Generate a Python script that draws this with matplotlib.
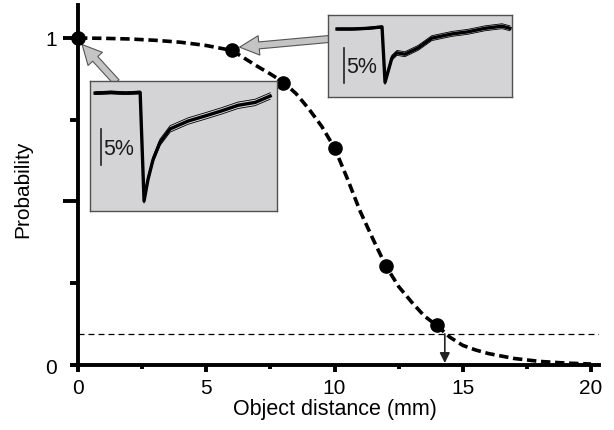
import numpy as np
import matplotlib
matplotlib.use('Agg')
import matplotlib.pyplot as plt
from matplotlib.ticker import FixedLocator

plt.rcParams['font.family'] = ['Liberation Sans', 'DejaVu Sans']
plt.rcParams['text.color'] = '#1a1a1a'

### Data ###
# measured points
dist_mm = [0, 6, 8, 10, 12, 14]
prob = [1.0, 0.963, 0.862, 0.664, 0.303, 0.122]

# fitted curve
curve_x = [0, 1, 2, 3, 4, 5, 6, 7, 7.5, 8, 8.5, 9, 9.5, 10, 10.5, 11, 11.5, 12,
           12.5, 13, 13.5, 14, 14.5, 15, 15.5, 16, 17, 18, 19, 20]
curve_p = [1.0, 0.999, 0.997, 0.993, 0.987, 0.977, 0.962, 0.913, 0.89, 0.865,
           0.83, 0.783, 0.73, 0.664, 0.57, 0.47, 0.385, 0.303, 0.24, 0.193,
           0.15, 0.12, 0.085, 0.06, 0.046, 0.035, 0.02, 0.011, 0.006, 0.003]

# threshold
thr_p = 0.095
thr_x = 14.3

# inset traces (% change vs time, s)
t1 = [-15.3, -10, -5, -0.3, 1.0, 2.3, 4.0, 6.3, 9.7, 15.7, 21.3, 26.7, 32.3, 38.0, 43.0]
resp1 = [0.0, 0.1, 0.0, 0.1, -15.1, -12.1, -9.3, -6.9, -5.0, -3.9, -3.2, -2.5, -1.7, -1.3, -0.4]
sem1 = [0.2, 0.2, 0.2, 0.2, 0.3, 0.4, 0.4, 0.45, 0.45, 0.45, 0.45, 0.45, 0.45, 0.45, 0.45]

t2 = [-15.3, -10, -5, -0.3, 0.7, 3.0, 4.7, 7.3, 11.7, 16.3, 23.0, 28.3, 34.0, 39.7, 42.3]
resp2 = [0.0, 0.0, 0.1, 0.3, -7.6, -4.1, -3.4, -3.6, -2.7, -1.3, -0.7, -0.4, 0.1, 0.4, 0.1]
sem2 = [0.15, 0.15, 0.15, 0.15, 0.3, 0.35, 0.35, 0.35, 0.35, 0.35, 0.35, 0.35, 0.35, 0.35, 0.35]

### Main plot ###
fig = plt.figure(figsize=(6.14, 4.31), dpi=100)
ax = fig.add_axes([0.1166, 0.1508, 0.8585, 0.8346])

ax.plot(curve_x, curve_p, color='black', lw=2.6, dashes=(2.6, 1.3), zorder=3, clip_on=False)
ax.plot(dist_mm, prob, 'o', color='black', ms=9.5, zorder=4, clip_on=False)
ax.plot([0, 20.3], [thr_p, thr_p], color='black', lw=0.9, dashes=(4.8, 3.2), zorder=2)
ax.annotate('', xy=(thr_x, 0.006), xytext=(thr_x, thr_p),
            arrowprops=dict(arrowstyle='-|>,head_length=0.6,head_width=0.3', color='#222222',
                            lw=1.2, mutation_scale=10, shrinkA=0, shrinkB=0), zorder=3)

# arrows from insets to points
gray_arrow = dict(arrowstyle='simple,head_length=14,head_width=14,tail_width=5',
                  fc='#c4c4c4', ec='#555555', lw=0.8, mutation_scale=1, shrinkA=0, shrinkB=0)
ax.annotate('', xy=(0.16, 0.98), xytext=(1.5, 0.865), arrowprops=gray_arrow, zorder=1)
ax.annotate('', xy=(6.3, 0.972), xytext=(9.8, 0.997), arrowprops=gray_arrow, zorder=1)

ax.set_xlim(-0.25, 20.3)
ax.set_ylim(0, 1.1)
for s in ['top', 'right']:
    ax.spines[s].set_visible(False)
ax.spines['left'].set_position(('data', 0))
ax.spines['left'].set_linewidth(2.8)
ax.spines['bottom'].set_linewidth(2.8)

ax.set_xticks([0, 5, 10, 15, 20])
ax.set_xticks([2.5, 7.5, 12.5, 17.5], minor=True)
ax.tick_params(axis='x', which='major', length=5, width=2.8, labelsize=15, pad=4)
ax.tick_params(axis='x', which='minor', length=3, width=2.8)

ax.yaxis.set_major_locator(FixedLocator([0.5, 1.0]))
ax.yaxis.set_minor_locator(FixedLocator([0, 0.25, 0.75]))
ax.set_yticklabels(['', '1'])
ax.set_yticklabels(['0', '', ''], minor=True)
ax.tick_params(axis='y', which='major', length=11, width=2.8, labelsize=15, pad=4)
ax.tick_params(axis='y', which='minor', length=5.5, width=2.8, labelsize=15, pad=9.5)

ax.set_xlabel('Object distance (mm)', fontsize=15.5)
ax.set_ylabel('Probability', fontsize=15)
ax.xaxis.set_label_coords(0.5, -0.092)
ax.yaxis.set_label_coords(-0.074, 0.49)

### Insets ###
def draw_inset(rect, t, resp, sem, xlim, ylim, bar_t, bar_y, txt_y):
    iax = fig.add_axes(rect)
    iax.set_facecolor('#d4d4d6')
    r = np.array(resp)
    e = np.array(sem)
    iax.plot(t, r, color='black', lw=2.4)
    iax.plot(t, r + e, color='black', lw=0.6)
    iax.plot(t, r - e, color='black', lw=0.6)
    iax.plot([bar_t, bar_t], bar_y, color='#222222', lw=1.2)
    iax.text(bar_t + 0.8, txt_y, '5%', fontsize=15.5, va='center', ha='left')
    iax.set_xlim(xlim)
    iax.set_ylim(ylim)
    iax.set_xticks([])
    iax.set_yticks([])
    for s in iax.spines.values():
        s.set_color('#505050')
        s.set_linewidth(1.0)
    return iax

draw_inset([0.1466, 0.5081, 0.3046, 0.3016], t1, resp1, sem1,
           (-17, 45.3), (-16.5, 1.7), -13.3, [-5, -10], -7.7)
draw_inset([0.5342, 0.7726, 0.2997, 0.1903], t2, resp2, sem2,
           (-18.3, 43), (-9.7, 2.0), -13.0, [-2.7, -7.7], -5.4)

fig.savefig('out.png', dpi=100)
